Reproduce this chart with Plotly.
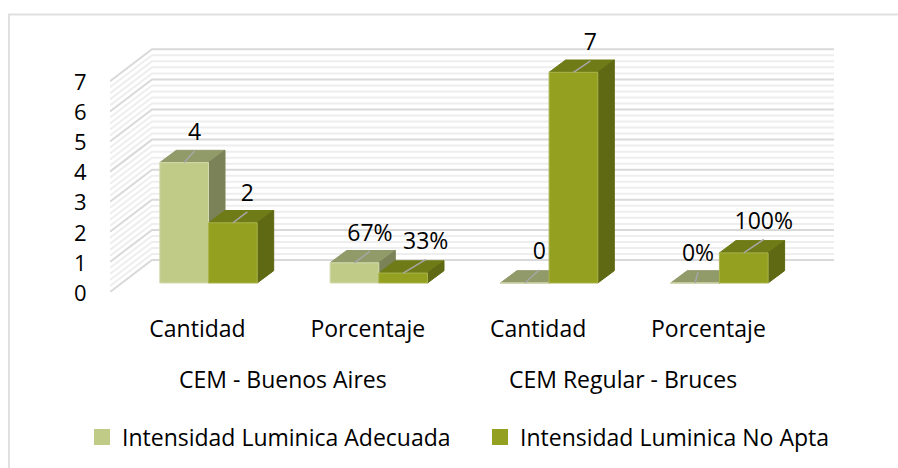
import plotly.graph_objects as go

# ---- data ----
categories = ["Cantidad", "Porcentaje", "Cantidad", "Porcentaje"]
groups = ["CEM - Buenos Aires", "CEM Regular - Bruces"]
series_names = ["Intensidad Luminica Adecuada", "Intensidad Luminica No Apta"]
adecuada = [4, 0.67, 0, 0]
no_apta = [2, 0.33, 7, 1]
adecuada_labels = ["4", "67%", "0", "0%"]
no_apta_labels = ["2", "33%", "7", "100%"]
y_ticks = [0, 1, 2, 3, 4, 5, 6, 7]

# ---- geometry ----
W, H = 898, 468
L, R, T, B = 110, 834, 22, 292
UX = 170.3            # px per category
UY = 30.1             # px per value unit
X0 = 208.5            # px of first category centre
xr = [(L - X0) / UX, (R - X0) / UX]
yr = [0, (B - T) / UY]
bar_w = 48.7 / UX
dep_x, dep_y = 16.5 / UX, 12.3 / UY       # bar depth
wall_x, wall_y = 42 / UX, 32 / UY         # wall depth
base = 9 / UY                             # bar floor above the front wall edge
tick_shift = -11 / UX

# label offset from the bar's front-top centre, pixels (right, up)
lab_off_a = [(10.5, 28), (15.5, 28), (14.5, 29.5), (3, 27.5)]
lab_off_b = [(14.5, 27.5), (22.5, 30), (17, 28), (20, 30)]
LEADER_GAP = 16.5

C = dict(a_front="#c0cb88", a_top="#919a69", a_side="#7b8257",
         b_front="#94a01f", b_top="#6f7b16", b_side="#5f6812")
FONT = "Open Sans"
FS = 23


def polys(vals, off):
    fr, tp, sd = ([], []), ([], []), ([], [])
    for i, v in enumerate(vals):
        x0 = i + off
        x1 = x0 + bar_w
        y0, y1 = base, base + v
        for (store, xs, ys) in (
            (fr, [x0, x1, x1, x0, x0], [y0, y0, y1, y1, y0]),
            (tp, [x0, x1, x1 + dep_x, x0 + dep_x, x0],
             [y1, y1, y1 + dep_y, y1 + dep_y, y1]),
            (sd, [x1, x1 + dep_x, x1 + dep_x, x1, x1],
             [y0, y0 + dep_y, y1 + dep_y, y1, y0]),
        ):
            store[0].extend(xs + [None])
            store[1].extend(ys + [None])
    return fr, tp, sd


def face(p, color, line=None):
    return go.Scatter(x=p[0], y=p[1], mode="lines", fill="toself", fillcolor=color,
                      line=dict(color=line or color, width=1),
                      hoverinfo="skip", showlegend=False)


fig = go.Figure()
a_fr, a_tp, a_sd = polys(adecuada, -bar_w)
b_fr, b_tp, b_sd = polys(no_apta, 0)
fig.add_trace(face(a_tp, C["a_top"]))
fig.add_trace(face(a_sd, C["a_side"]))
fig.add_trace(face(b_tp, C["b_top"]))
fig.add_trace(face(b_sd, C["b_side"]))
fig.add_trace(face(a_fr, C["a_front"], "#d3dbae"))
fig.add_trace(face(b_fr, C["b_front"], "#a9b34c"))

# leader lines + value labels
for vals, labels, offs, sign in ((adecuada, adecuada_labels, lab_off_a, -0.5),
                                 (no_apta, no_apta_labels, lab_off_b, 0.5)):
    lx, ly, tx, ty = [], [], [], []
    for i, v in enumerate(vals):
        cx, cy = i + sign * bar_w, base + v
        ox, oy = offs[i]
        tx.append(cx + ox / UX)
        ty.append(cy + oy / UY)
        lx += [cx, tx[-1], None]
        ly += [cy, ty[-1] - LEADER_GAP / UY, None]
    fig.add_trace(go.Scatter(x=lx, y=ly, mode="lines",
                             line=dict(color="#a6a6a6", width=1.5),
                             hoverinfo="skip", showlegend=False))
    fig.add_trace(go.Scatter(x=tx, y=ty, mode="text", text=labels,
                             textposition="middle center",
                             textfont=dict(family=FONT, size=FS, color="#000000"),
                             hoverinfo="skip", showlegend=False, cliponaxis=False))

# legend entries
for name, col, lg in ((series_names[0], C["a_front"], "legend"),
                      (series_names[1], C["b_front"], "legend2")):
    fig.add_trace(go.Scatter(x=[None], y=[None], mode="markers", name=name, legend=lg,
                             marker=dict(symbol="square", size=16, color=col)))


# 3-D wall grid
def wall_path(levels):
    x_l, x_b, x_r = xr[0], xr[0] + wall_x, xr[1]
    return " ".join(f"M{x_l},{v} L{x_b},{v + wall_y} L{x_r},{v + wall_y}" for v in levels)


minor = [t + k / 5 for t in y_ticks[:-1] for k in range(1, 5)]
fig.add_shape(type="path", path=wall_path(minor), xref="x", yref="y", layer="below",
              line=dict(color="#eeeeee", width=2))
fig.add_shape(type="path", path=wall_path(y_ticks), xref="x", yref="y", layer="below",
              line=dict(color="#d9d9d9", width=2))

# outer frame running off the page at the right and bottom
px = lambda p: (p - L) / (R - L)
py = lambda p: (B - p) / (B - T)
fig.add_shape(type="path", xref="paper", yref="paper", layer="below",
              path=f"M{px(W + 5)},{py(14.5)} L{px(9)},{py(14.5)} L{px(9)},{py(H + 5)}",
              line=dict(color="#e0e0e0", width=2))

# group captions
tick_x = [i + tick_shift for i in range(len(categories))]
for name, pair in zip(groups, ((0, 1), (2, 3))):
    fig.add_annotation(x=(tick_x[pair[0]] + tick_x[pair[1]]) / 2, xref="x",
                       y=py(379), yref="paper", text=name, showarrow=False,
                       xanchor="center", yanchor="middle",
                       font=dict(family=FONT, size=FS, color="#000000"))

legend_common = dict(orientation="h", xanchor="left", yanchor="middle", y=py(437),
                     bgcolor="rgba(0,0,0,0)", borderwidth=0,
                     font=dict(family=FONT, size=FS, color="#000000"))

fig.update_layout(
    width=W, height=H, autosize=False,
    margin=dict(l=L, r=W - R, t=T, b=H - B, pad=0, autoexpand=False),
    paper_bgcolor="#ffffff", plot_bgcolor="rgba(0,0,0,0)",
    showlegend=True,
    legend=dict(x=px(82), **legend_common),
    legend2=dict(x=px(480), **legend_common),
    xaxis=dict(range=xr, tickmode="array", tickvals=tick_x, ticktext=categories,
               showgrid=False, zeroline=False, showline=False,
               ticks="outside", ticklen=16, tickcolor="rgba(0,0,0,0)",
               tickfont=dict(family=FONT, size=FS, color="#000000")),
    yaxis=dict(range=yr, tickmode="array", tickvals=y_ticks,
               showgrid=False, zeroline=False, showline=False,
               ticks="outside", ticklen=18, ticklabelshift=1, tickcolor="rgba(0,0,0,0)",
               tickfont=dict(family=FONT, size=22, color="#000000")),
)
fig.write_html("out.html", config=dict(displayModeBar=False),
               post_script="document.body.style.margin='0';document.documentElement.style.overflow='hidden';")
